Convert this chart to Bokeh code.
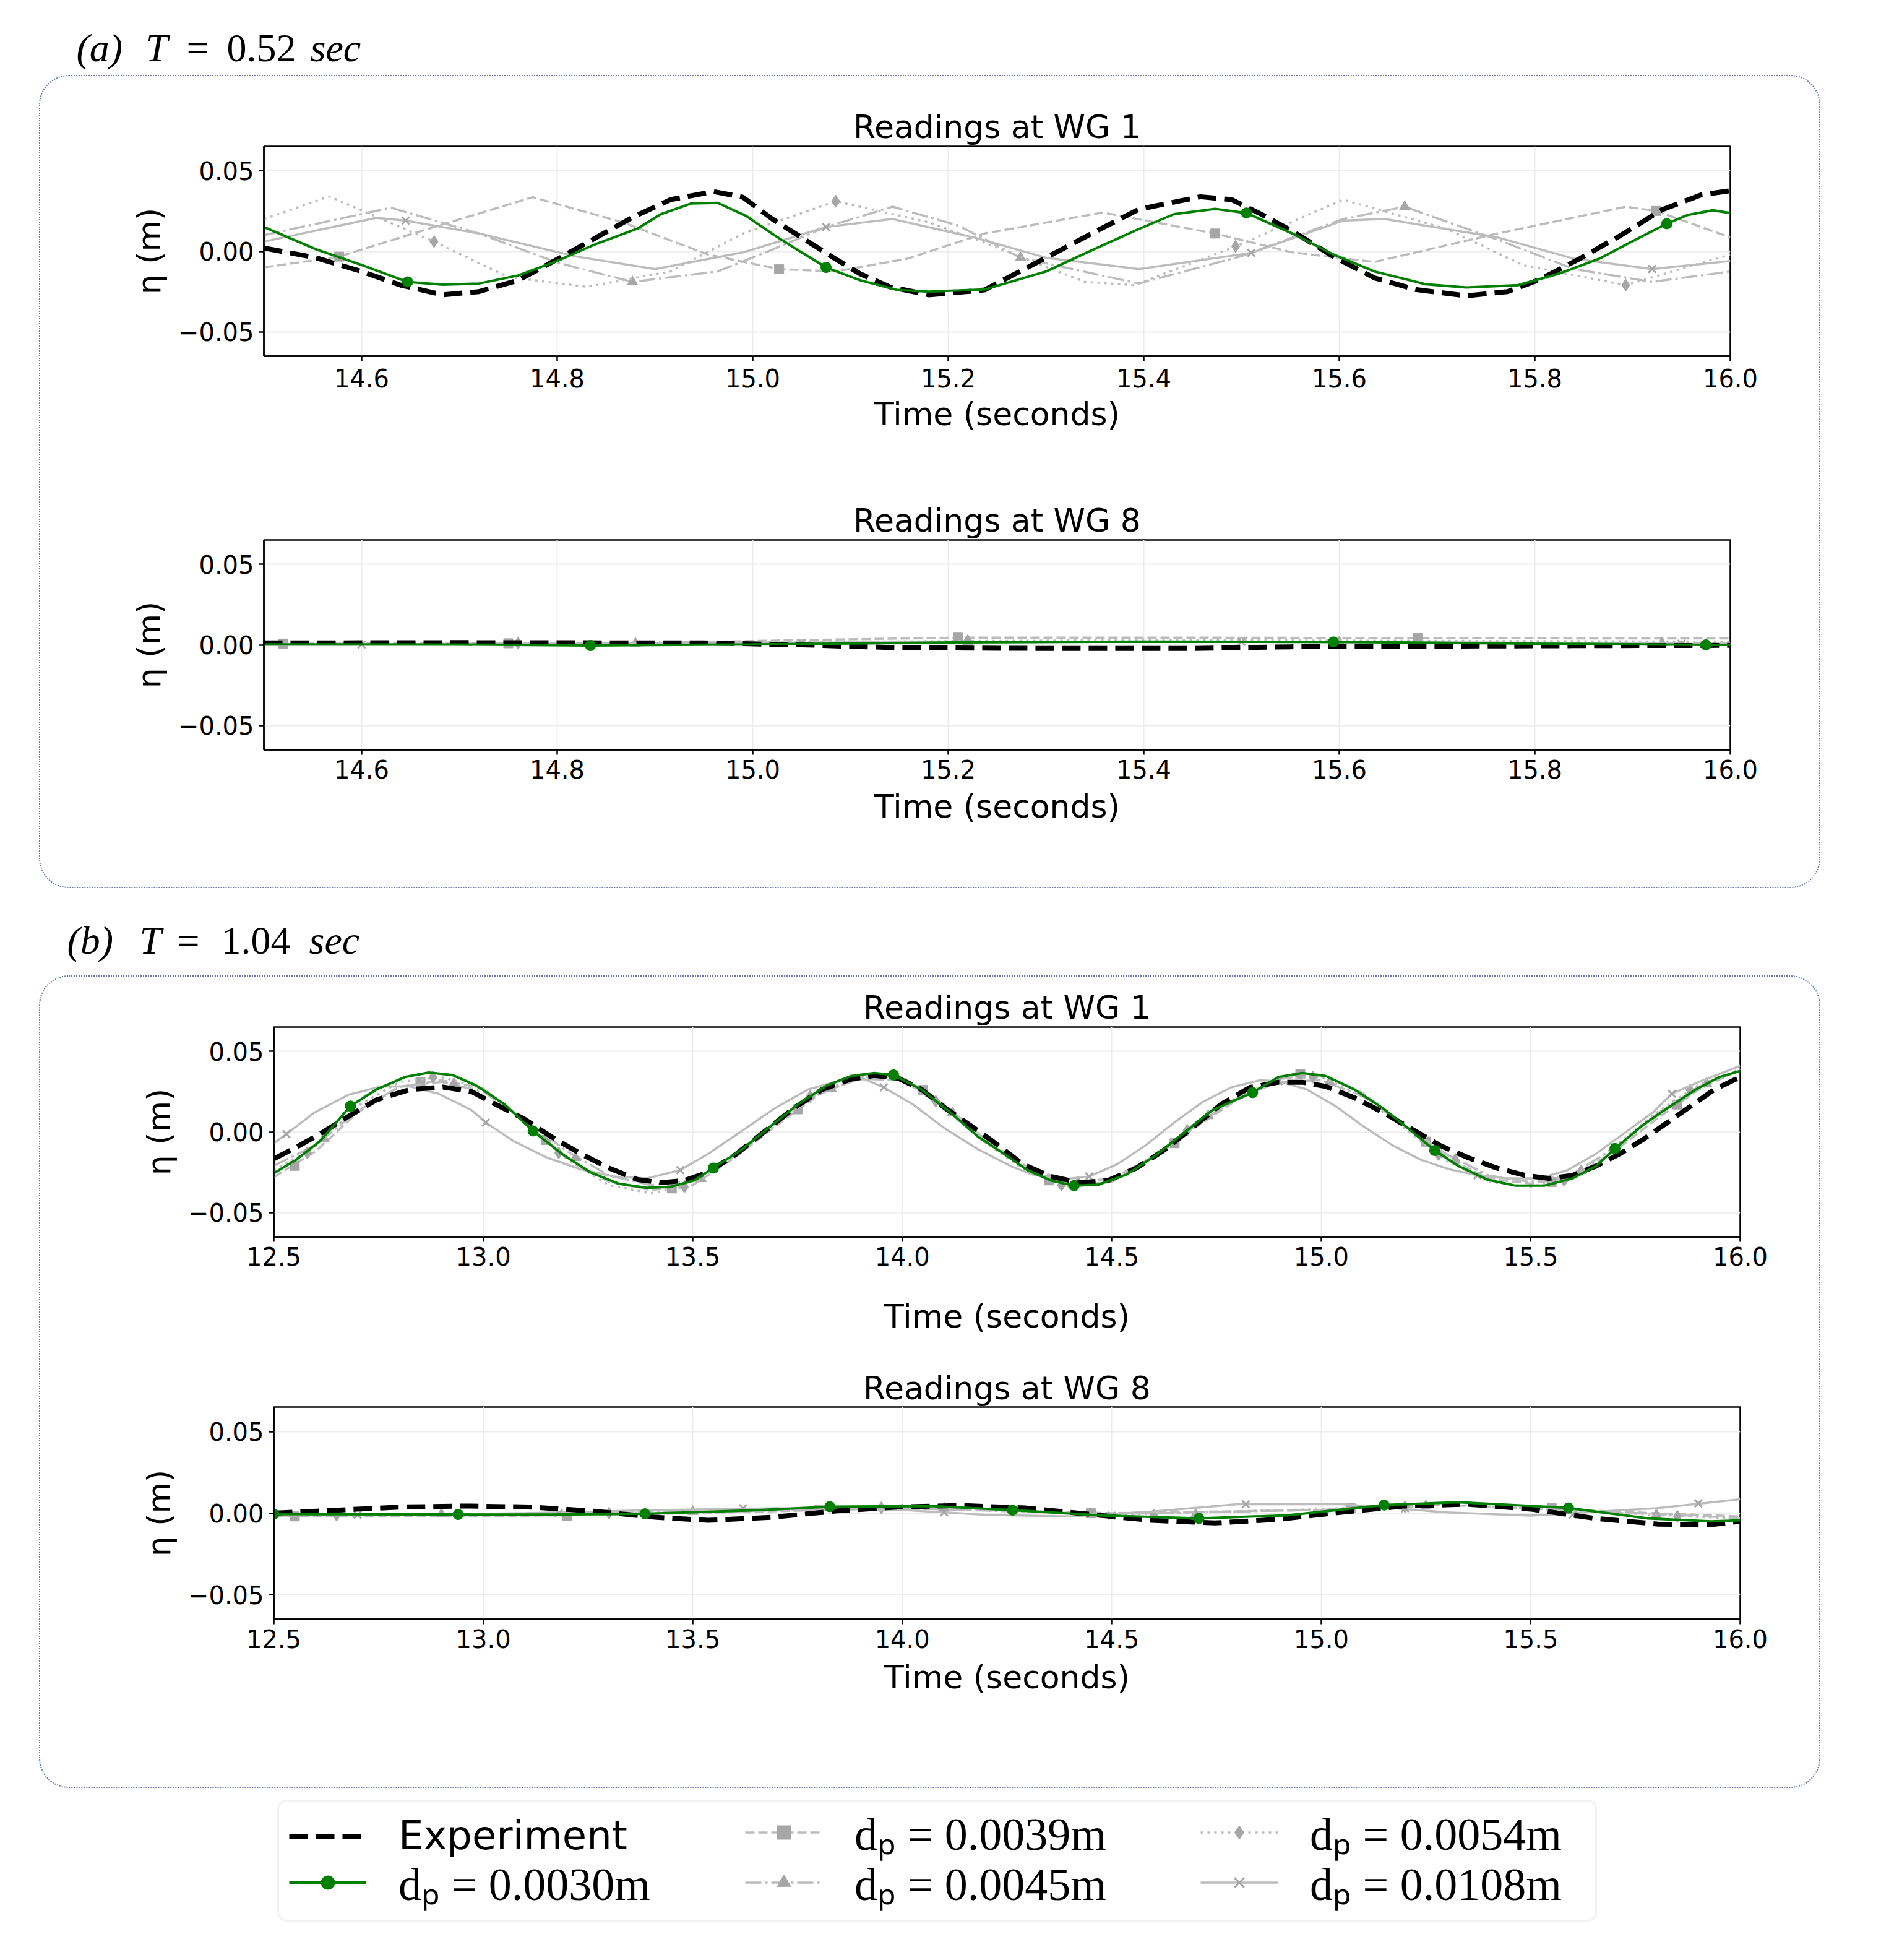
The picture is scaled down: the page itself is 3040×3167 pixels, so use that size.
from bokeh.plotting import figure
from bokeh.models import (Range1d, FixedTicker, NumeralTickFormatter, Label, Legend,
                          LegendItem, BoxAnnotation)
from bokeh.layouts import column
from bokeh.embed import file_html
from bokeh.resources import INLINE

# ------------------------------------------------------------------ data
Y_TICKS = [-0.05, 0.0, 0.05]
Y_TICK_LABELS = ["\u22120.05", "0.00", "0.05"]
XTICKS_A = [14.6, 14.8, 15.0, 15.2, 15.4, 15.6, 15.8, 16.0]
XTICKS_B = [12.5, 13.0, 13.5, 14.0, 14.5, 15.0, 15.5, 16.0]
LEGEND_LABELS = ["Experiment", "d\u209a = 0.0030m", "d\u209a = 0.0039m",
                 "d\u209a = 0.0045m", "d\u209a = 0.0054m", "d\u209a = 0.0108m"]

# (a) T = 0.52 s, WG 1
A1_T_EXP = [14.50, 14.553, 14.60, 14.64, 14.683, 14.72, 14.76, 14.80, 14.84, 14.877, 14.916, 14.96,
            14.99, 15.02, 15.05, 15.08, 15.11, 15.14, 15.18, 15.237, 15.30, 15.353, 15.395, 15.458,
            15.49, 15.52, 15.552, 15.594, 15.636, 15.678, 15.73, 15.772, 15.804, 15.846, 15.888,
            15.93, 15.97, 16.0]
A1_EXP = [0.002, -0.004, -0.0125, -0.021, -0.027, -0.025, -0.018, -0.005, 0.0085, 0.021, 0.032, 0.037,
          0.0335, 0.020, 0.0085, -0.003, -0.014, -0.022, -0.027, -0.024, -0.004, 0.013, 0.026, 0.0338,
          0.032, 0.023, 0.0125, -0.0033, -0.0165, -0.0237, -0.0276, -0.025, -0.0178, -0.0046, 0.0099,
          0.0257, 0.0349, 0.0375]
A1_T_030 = [14.50, 14.553, 14.60, 14.647, 14.683, 14.72, 14.76, 14.80, 14.84, 14.882, 14.906, 14.937,
            14.964, 14.993, 15.022, 15.05, 15.075, 15.11, 15.148, 15.18, 15.237, 15.30, 15.342, 15.395,
            15.431, 15.473, 15.505, 15.552, 15.594, 15.636, 15.688, 15.73, 15.783, 15.825, 15.866,
            15.903, 15.935, 15.956, 15.982, 16.0]
A1_030 = [0.015, 0.0013, -0.0085, -0.019, -0.0207, -0.020, -0.015, -0.006, 0.0046, 0.014, 0.023, 0.0296,
          0.030, 0.022, 0.010, -0.0007, -0.010, -0.018, -0.024, -0.025, -0.0237, -0.0125, -0.0007, 0.0138,
          0.023, 0.0263, 0.0237, 0.011, -0.002, -0.0125, -0.0204, -0.0224, -0.021, -0.0138, -0.0046,
          0.0072, 0.0171, 0.0224, 0.0254, 0.0237]
A1_MT_030 = [14.647, 15.075, 15.505, 15.935]
A1_MV_030 = [-0.019, -0.010, 0.0237, 0.0171]
A1_T_039 = [14.50, 14.577, 14.674, 14.775, 14.867, 14.954, 15.027, 15.085, 15.158, 15.237, 15.358,
            15.473, 15.552, 15.636, 15.762, 15.893, 15.924, 16.0]
A1_039 = [-0.010, -0.0033, 0.015, 0.0335, 0.018, -0.002, -0.011, -0.0125, -0.0046, 0.011, 0.024,
          0.011, -0.0007, -0.0066, 0.011, 0.0276, 0.025, 0.0086]
A1_MT_039 = [14.577, 15.027, 15.473, 15.924]
A1_MV_039 = [-0.0033, -0.011, 0.011, 0.025]
A1_T_045 = [14.50, 14.63, 14.72, 14.80, 14.877, 14.964, 15.013, 15.075, 15.143, 15.21, 15.274, 15.395,
            15.50, 15.604, 15.667, 15.762, 15.84, 15.92, 16.0]
A1_045 = [0.010, 0.027, 0.011, -0.007, -0.019, -0.0125, -0.0007, 0.015, 0.0276, 0.016, -0.004, -0.020,
          -0.003, 0.020, 0.0276, 0.0072, -0.011, -0.019, -0.0125]
A1_MT_045 = [14.877, 15.274, 15.667]
A1_MV_045 = [-0.019, -0.004, 0.0276]
A1_T_054 = [14.50, 14.567, 14.674, 14.75, 14.83, 14.916, 14.99, 15.085, 15.18, 15.24, 15.34, 15.39,
            15.494, 15.604, 15.71, 15.788, 15.893, 16.0]
A1_054 = [0.020, 0.034, 0.006, -0.016, -0.022, -0.0125, 0.011, 0.031, 0.018, 0.0046, -0.019, -0.021,
          0.003, 0.032, 0.0138, -0.0086, -0.021, -0.002]
A1_MT_054 = [14.674, 15.085, 15.494, 15.893]
A1_MV_054 = [0.006, 0.031, 0.003, -0.021]
A1_T_108 = [14.50, 14.615, 14.645, 14.72, 14.82, 14.90, 14.99, 15.075, 15.143, 15.23, 15.30, 15.395,
            15.51, 15.604, 15.646, 15.762, 15.84, 15.92, 16.0]
A1_108 = [0.006, 0.0207, 0.019, 0.011, -0.0033, -0.011, -0.0007, 0.015, 0.020, 0.008, -0.004, -0.011,
          -0.001, 0.019, 0.020, 0.0086, -0.0046, -0.011, -0.006]
A1_MT_108 = [14.645, 15.075, 15.51, 15.92]
A1_MV_108 = [0.019, 0.015, -0.001, -0.011]

# (a) T = 0.52 s, WG 8
A8_T_EXP = [14.50, 14.70, 14.95, 15.05, 15.15, 15.30, 15.45, 15.55, 15.70, 15.85, 16.0]
A8_EXP = [0.0012, 0.0014, 0.0012, 0.0, -0.0018, -0.0022, -0.0022, -0.0012, -0.0008, -0.0005, -0.0003]
A8_T_030 = [14.50, 14.70, 14.834, 15.00, 15.20, 15.40, 15.594, 15.80, 15.975, 16.0]
A8_030 = [0.0003, 0.0002, -0.0004, 0.0003, 0.0015, 0.002, 0.0018, 0.0008, 0.0, 0.0]
A8_MT_030 = [14.834, 15.594, 15.975]
A8_MV_030 = [-0.0004, 0.0018, 0.0]
A8_T_039 = [14.50, 14.75, 14.90, 15.05, 15.21, 15.45, 15.68, 15.93, 16.0]
A8_039 = [0.0008, 0.0010, 0.0012, 0.003, 0.0045, 0.0045, 0.0042, 0.004, 0.004]
A8_MT_039 = [14.52, 14.75, 15.21, 15.68]
A8_MV_039 = [0.0008, 0.0010, 0.0045, 0.0042]
A8_T_GRAY = [14.50, 14.80, 15.10, 15.40, 15.70, 16.0]
A8_045 = [0.0005, 0.0008, 0.0015, 0.002, 0.0015, 0.001]
A8_MT_045 = [14.88, 15.22, 15.60, 15.93]
A8_MV_045 = [0.0009, 0.0017, 0.0018, 0.0011]
A8_054 = [0.001, 0.0012, 0.002, 0.003, 0.0025, 0.002]
A8_MT_054 = [14.76, 15.22, 15.68]
A8_MV_054 = [0.0011, 0.0026, 0.0026]
A8_108 = [0.0, 0.0005, 0.0015, 0.002, 0.0015, 0.0005]
A8_MT_108 = [14.60, 15.05, 15.50, 15.95]
A8_MV_108 = [0.0002, 0.0012, 0.0019, 0.0007]

# (b) T = 1.04 s, WG 1
B1_T_EXP = [12.50, 12.553, 12.61, 12.678, 12.745, 12.825, 12.904, 12.972, 13.028, 13.096, 13.164,
            13.232, 13.30, 13.368, 13.424, 13.48, 13.537, 13.605, 13.673, 13.741, 13.809, 13.877,
            13.933, 13.99, 14.046, 14.103, 14.16, 14.216, 14.287, 14.355, 14.423, 14.491, 14.559,
            14.627, 14.695, 14.762, 14.83, 14.898, 14.955, 15.011, 15.079, 15.147, 15.215, 15.283,
            15.351, 15.419, 15.486, 15.543, 15.60, 15.656, 15.713, 15.769, 15.826, 15.882, 15.938, 16.0]
B1_EXP = [-0.0167, -0.0096, -0.0013, 0.0096, 0.0199, 0.0263, 0.0278, 0.025, 0.0173, 0.0083, -0.0032,
          -0.0135, -0.0224, -0.0295, -0.0314, -0.0301, -0.025, -0.0135, 0.0006, 0.0147, 0.0263, 0.0327,
          0.035, 0.0333, 0.0263, 0.0147, 0.0045, -0.0058, -0.0199, -0.0276, -0.0314, -0.0301, -0.0224,
          -0.0109, 0.0032, 0.0173, 0.0276, 0.0308, 0.0308, 0.0282, 0.0212, 0.0122, 0.0019, -0.0083,
          -0.016, -0.0224, -0.0269, -0.0288, -0.0269, -0.0212, -0.0135, -0.0045, 0.0058, 0.016, 0.0263,
          0.034]
B1_T_030 = [12.50, 12.553, 12.61, 12.683, 12.745, 12.813, 12.87, 12.926, 12.983, 13.05, 13.119, 13.187,
            13.255, 13.322, 13.39, 13.447, 13.503, 13.549, 13.617, 13.684, 13.752, 13.82, 13.877, 13.933,
            13.979, 14.046, 14.114, 14.182, 14.242, 14.299, 14.355, 14.41, 14.468, 14.536, 14.604,
            14.672, 14.74, 14.836, 14.898, 14.955, 15.011, 15.079, 15.147, 15.215, 15.271, 15.328,
            15.396, 15.464, 15.532, 15.60, 15.656, 15.701, 15.769, 15.826, 15.894, 15.95, 16.0]
B1_030 = [-0.0256, -0.0173, -0.0058, 0.016, 0.0263, 0.034, 0.0368, 0.0353, 0.0288, 0.0173, 0.0006,
          -0.0135, -0.025, -0.032, -0.0346, -0.034, -0.0301, -0.0224, -0.0109, 0.0032, 0.0173, 0.0288,
          0.0346, 0.0365, 0.0353, 0.0263, 0.0122, -0.0032, -0.0135, -0.0237, -0.0301, -0.0333, -0.0327,
          -0.0263, -0.0147, -0.0006, 0.0135, 0.0244, 0.034, 0.0365, 0.0346, 0.0263, 0.0147, 0.0006,
          -0.0115, -0.0212, -0.0295, -0.0333, -0.0333, -0.0288, -0.0212, -0.0103, 0.0045, 0.0147,
          0.0263, 0.034, 0.0378]
B1_MT_030 = [12.683, 13.119, 13.549, 13.979, 14.41, 14.836, 15.271, 15.701]
B1_MV_030 = [0.016, 0.0006, -0.0224, 0.0353, -0.0333, 0.0244, -0.0115, -0.0103]
B1_T_GRAY = [12.5, 12.6, 12.7, 12.8, 12.9, 13.0, 13.1, 13.2, 13.3, 13.4, 13.5, 13.6, 13.7, 13.8, 13.9,
             14.0, 14.1, 14.2, 14.3, 14.4, 14.5, 14.6, 14.7, 14.8, 14.9, 15.0, 15.1, 15.2, 15.3, 15.4,
             15.5, 15.6, 15.7, 15.8, 15.9, 16.0]
B1_039 = [-0.028, -0.012, 0.012, 0.028, 0.032, 0.027, 0.006, -0.016, -0.031, -0.036, -0.033, -0.016,
          0.004, 0.023, 0.034, 0.034, 0.017, -0.005, -0.024, -0.033, -0.031, -0.016, 0.003, 0.020,
          0.033, 0.036, 0.024, 0.004, -0.016, -0.029, -0.032, -0.028, -0.012, 0.008, 0.026, 0.039]
B1_MT_039 = [12.55, 12.85, 13.15, 13.45, 13.75, 14.05, 14.35, 14.65, 14.95, 15.25, 15.55, 15.85]
B1_MV_039 = [-0.021, 0.031, -0.005, -0.035, 0.014, 0.026, -0.030, -0.007, 0.036, -0.006, -0.031, 0.017]
B1_045 = [-0.021, -0.008, 0.013, 0.028, 0.031, 0.025, 0.007, -0.012, -0.027, -0.033, -0.030, -0.015,
          0.005, 0.024, 0.033, 0.032, 0.016, -0.005, -0.022, -0.031, -0.029, -0.015, 0.004, 0.021,
          0.031, 0.032, 0.022, 0.004, -0.014, -0.027, -0.031, -0.026, -0.010, 0.011, 0.028, 0.038]
B1_MT_045 = [12.62, 12.93, 13.22, 13.52, 13.83, 14.12, 14.42, 14.73, 15.02, 15.32, 15.62, 15.92]
B1_MV_045 = [-0.004, 0.030, -0.016, -0.029, 0.027, 0.012, -0.031, 0.010, 0.031, -0.017, -0.024, 0.030]
B1_054 = [-0.024, -0.009, 0.016, 0.031, 0.034, 0.027, 0.006, -0.017, -0.033, -0.038, -0.033, -0.015,
          0.006, 0.025, 0.034, 0.032, 0.015, -0.007, -0.025, -0.034, -0.031, -0.015, 0.005, 0.022,
          0.033, 0.034, 0.022, 0.002, -0.018, -0.031, -0.034, -0.028, -0.009, 0.012, 0.029, 0.039]
B1_MT_054 = [12.58, 12.88, 13.18, 13.48, 13.78, 14.08, 14.38, 14.68, 14.98, 15.28, 15.58, 15.88]
B1_MV_054 = [-0.013, 0.034, -0.013, -0.034, 0.022, 0.019, -0.033, 0.001, 0.034, -0.014, -0.030, 0.026]
B1_T_108 = [12.50, 12.53, 12.598, 12.678, 12.757, 12.825, 12.893, 12.972, 13.006, 13.073, 13.153, 13.232,
            13.311, 13.39, 13.47, 13.537, 13.617, 13.696, 13.775, 13.854, 13.91, 13.956, 14.024, 14.103,
            14.182, 14.259, 14.31, 14.378, 14.446, 14.514, 14.581, 14.649, 14.717, 14.785, 14.853,
            14.898, 14.966, 15.034, 15.102, 15.17, 15.238, 15.305, 15.373, 15.441, 15.52, 15.588,
            15.656, 15.724, 15.792, 15.837, 15.905, 16.0]
B1_108 = [-0.007, -0.0013, 0.0122, 0.023, 0.0282, 0.0282, 0.0237, 0.0135, 0.0058, -0.0058, -0.016,
          -0.0231, -0.0276, -0.0288, -0.0237, -0.0135, 0.0006, 0.0147, 0.0263, 0.032, 0.0327, 0.0276,
          0.0173, 0.0019, -0.0109, -0.0212, -0.0263, -0.0295, -0.0276, -0.0199, -0.0083, 0.0058, 0.0186,
          0.0276, 0.032, 0.0314, 0.0263, 0.016, 0.0032, -0.0083, -0.0173, -0.0231, -0.0269, -0.0288,
          -0.0288, -0.0237, -0.0135, -0.0006, 0.0122, 0.0237, 0.0314, 0.041]
B1_MT_108 = [12.53, 13.006, 13.47, 13.956, 14.446, 14.898, 15.373, 15.837]
B1_MV_108 = [-0.0013, 0.0058, -0.0237, 0.0276, -0.0276, 0.0314, -0.0269, 0.0237]

# (b) T = 1.04 s, WG 8
B8_T_EXP = [12.5, 12.656, 12.807, 12.958, 13.109, 13.26, 13.41, 13.537, 13.689, 13.84, 13.99, 14.142,
            14.293, 14.444, 14.595, 14.746, 14.897, 15.048, 15.2, 15.35, 15.5, 15.653, 15.804, 15.93, 16.0]
B8_EXP = [0.0, 0.0019, 0.0038, 0.0044, 0.0038, 0.0013, -0.0025, -0.0044, -0.0025, 0.0013, 0.0038,
          0.0047, 0.0032, -0.0006, -0.0044, -0.006, -0.0038, 0.0006, 0.0044, 0.0055, 0.0025, -0.0032,
          -0.0067, -0.007, -0.005]
B8_T_030 = [12.5, 12.94, 13.16, 13.386, 13.66, 13.827, 14.066, 14.263, 14.47, 14.708, 14.92, 15.15,
            15.326, 15.59, 15.78, 15.93, 16.0]
B8_030 = [-0.0006, -0.0008, -0.0009, -0.0004, 0.0019, 0.004, 0.0044, 0.0019, -0.0013, -0.0032, -0.0013,
          0.005, 0.0067, 0.0032, -0.0032, -0.005, -0.0044]
B8_MT_030 = [12.5, 12.94, 13.386, 13.827, 14.263, 14.708, 15.15, 15.59]
B8_MV_030 = [-0.0006, -0.0008, -0.0004, 0.004, 0.0019, -0.0032, 0.005, 0.0032]
B8_T_GRAY = [12.5, 13.0, 13.5, 14.0, 14.5, 15.0, 15.3, 15.6, 16.0]
B8_039 = [-0.002, -0.002, 0.0, 0.003, 0.0, 0.002, 0.005, 0.002, -0.002]
B8_MT_039 = [12.55, 13.2, 13.8, 14.45, 15.07, 15.55]
B8_MV_039 = [-0.002, -0.0015, 0.002, 0.0, 0.003, 0.003]
B8_045 = [-0.001, -0.0005, 0.001, 0.003, -0.0005, 0.002, 0.005, 0.002, -0.003]
B8_MT_045 = [12.9, 13.5, 14.1, 14.7, 15.25, 15.8]
B8_MV_045 = [-0.0006, 0.001, 0.003, -0.001, 0.0045, -0.001]
B8_054 = [-0.0015, -0.001, 0.0005, 0.0035, -0.001, 0.0025, 0.0055, 0.0015, -0.0035]
B8_MT_054 = [12.65, 13.3, 13.95, 14.6, 15.2, 15.85]
B8_MV_054 = [-0.0012, 0.0, 0.0033, -0.0012, 0.004, -0.002]
B8_T_108 = [12.5, 12.8, 13.1, 13.4, 13.7, 14.0, 14.2, 14.4, 14.6, 14.8, 15.05, 15.3, 15.5, 15.8, 16.0]
B8_108 = [-0.0015, -0.001, 0.0, 0.0018, 0.003, 0.002, -0.001, -0.002, 0.001, 0.0055, 0.0055, 0.0005,
          -0.0015, 0.003, 0.0085]
B8_MT_108 = [12.7, 13.18, 13.62, 14.1, 14.5, 14.82, 15.2, 15.6, 15.9]
B8_MV_108 = [-0.001, 0.0, 0.003, 0.0005, -0.0015, 0.0055, 0.003, -0.001, 0.006]

# ------------------------------------------------------------------ styles
GRAY_LINE = "#bcbcbc"
GRAY_MARK = "#a6a6a6"
STYLE = {
    "exp": dict(color="black", width=8, dash="30 13", marker=None, mcolor=None, size=0),
    "030": dict(color="#008000", width=4, dash="solid", marker="circle", mcolor="#008000", size=17),
    "039": dict(color=GRAY_LINE, width=3.5, dash="15 6", marker="square", mcolor=GRAY_MARK, size=15),
    "045": dict(color=GRAY_LINE, width=3.5, dash="26 6 4 6", marker="triangle", mcolor=GRAY_MARK, size=17),
    "054": dict(color=GRAY_LINE, width=3.5, dash="4 7", marker="diamond", mcolor=GRAY_MARK, size=20),
    "108": dict(color=GRAY_LINE, width=3.5, dash="solid", marker="x", mcolor=GRAY_MARK, size=17),
}
SANS = "DejaVu Sans"
SERIF = "Liberation Serif"


def add_series(p, t, v, mt, mv, key):
    st = STYLE[key]
    n = min(len(t), len(v))
    p.line(t[:n], v[:n], line_color=st["color"], line_width=st["width"], line_dash=st["dash"])
    if st["marker"] and mt:
        m = min(len(mt), len(mv))
        p.scatter(mt[:m], mv[:m], marker=st["marker"], size=st["size"], fill_color=st["mcolor"],
                  line_color=st["mcolor"], line_width=3 if st["marker"] == "x" else 1)


def make_panel(w, h, mbl, mbr, mbt, mbb, xr, xticks, title, title_standoff, tick_standoff,
               xlab_standoff, series):
    p = figure(width=w, height=h, x_range=Range1d(*xr), y_range=Range1d(-0.065, 0.065),
               output_backend="svg", toolbar_location=None, title=title,
               min_border_left=mbl, min_border_right=mbr, min_border_top=mbt, min_border_bottom=mbb)
    p.border_fill_color = None
    p.background_fill_color = "white"
    p.outline_line_color = "black"
    p.outline_line_width = 2.5
    p.title.align = "center"
    p.title.text_font = SANS
    p.title.text_font_size = "52px"
    p.title.text_font_style = "normal"
    p.title.text_color = "black"
    p.title.standoff = title_standoff
    p.xaxis.ticker = FixedTicker(ticks=xticks)
    p.xaxis.formatter = NumeralTickFormatter(format="0.0")
    p.yaxis.ticker = FixedTicker(ticks=Y_TICKS)
    p.yaxis.major_label_overrides = {t: s for t, s in zip(Y_TICKS, Y_TICK_LABELS)}
    p.xaxis.axis_label = "Time (seconds)"
    p.yaxis.axis_label = "\u03b7 (m)"
    for ax in p.axis:
        ax.axis_line_color = "black"
        ax.axis_line_width = 2.5
        ax.major_tick_line_color = "black"
        ax.major_tick_line_width = 2.5
        ax.major_tick_out = 8
        ax.major_tick_in = 0
        ax.minor_tick_line_color = None
        ax.major_label_text_font = SANS
        ax.major_label_text_font_size = "40px"
        ax.major_label_text_color = "black"
        ax.axis_label_text_font = SANS
        ax.axis_label_text_font_size = "52px"
        ax.axis_label_text_font_style = "normal"
        ax.axis_label_text_color = "black"
    p.yaxis.major_label_standoff = 8
    p.xaxis.major_label_standoff = tick_standoff
    p.xaxis.axis_label_standoff = xlab_standoff
    p.yaxis.axis_label_standoff = 14
    p.grid.grid_line_color = "#ececec"
    p.grid.grid_line_width = 2
    for s in series:
        add_series(p, *s)
    return p


# panel (a)
fig_a1 = make_panel(2875, 629, 359, 143, 113, 177, (14.5, 16.0), XTICKS_A, "Readings at WG 1", 4, 12, 10, [
    (A1_T_039, A1_039, A1_MT_039, A1_MV_039, "039"),
    (A1_T_045, A1_045, A1_MT_045, A1_MV_045, "045"),
    (A1_T_054, A1_054, A1_MT_054, A1_MV_054, "054"),
    (A1_T_108, A1_108, A1_MT_108, A1_MV_108, "108"),
    (A1_T_EXP, A1_EXP, [], [], "exp"),
    (A1_T_030, A1_030, A1_MT_030, A1_MV_030, "030"),
])
fig_a8 = make_panel(2875, 681, 361, 144, 120, 222, (14.5, 16.0), XTICKS_A, "Readings at WG 8", 4, 8, 12, [
    (A8_T_039, A8_039, A8_MT_039, A8_MV_039, "039"),
    (A8_T_GRAY, A8_045, A8_MT_045, A8_MV_045, "045"),
    (A8_T_GRAY, A8_054, A8_MT_054, A8_MV_054, "054"),
    (A8_T_GRAY, A8_108, A8_MT_108, A8_MV_108, "108"),
    (A8_T_EXP, A8_EXP, [], [], "exp"),
    (A8_T_030, A8_030, A8_MT_030, A8_MV_030, "030"),
])
# panel (b)
fig_b1 = make_panel(2875, 609, 377, 128, 81, 189, (12.5, 16.0), XTICKS_B, "Readings at WG 1", 4, 8, 49, [
    (B1_T_GRAY, B1_039, B1_MT_039, B1_MV_039, "039"),
    (B1_T_GRAY, B1_045, B1_MT_045, B1_MV_045, "045"),
    (B1_T_GRAY, B1_054, B1_MT_054, B1_MV_054, "054"),
    (B1_T_108, B1_108, B1_MT_108, B1_MV_108, "108"),
    (B1_T_EXP, B1_EXP, [], [], "exp"),
    (B1_T_030, B1_030, B1_MT_030, B1_MV_030, "030"),
])
fig_b8 = make_panel(2875, 700, 365, 117, 86, 271, (12.5, 16.0), XTICKS_B, "Readings at WG 8", 2, 8, 14, [
    (B8_T_GRAY, B8_039, B8_MT_039, B8_MV_039, "039"),
    (B8_T_GRAY, B8_045, B8_MT_045, B8_MV_045, "045"),
    (B8_T_GRAY, B8_054, B8_MT_054, B8_MV_054, "054"),
    (B8_T_108, B8_108, B8_MT_108, B8_MV_108, "108"),
    (B8_T_EXP, B8_EXP, [], [], "exp"),
    (B8_T_030, B8_030, B8_MT_030, B8_MV_030, "030"),
])


def blank(w, h):
    f = figure(width=w, height=h, x_range=Range1d(0, w), y_range=Range1d(0, h),
               output_backend="svg", toolbar_location=None, min_border=0,
               x_axis_type=None, y_axis_type=None)
    f.outline_line_color = None
    f.background_fill_color = None
    f.border_fill_color = None
    return f


def heading(h, pieces):
    f = blank(3024, h)
    for txt, x, y, style in pieces:
        f.add_layout(Label(x=x, y=y, text=txt, text_font=SERIF, text_font_size="64px",
                           text_font_style=style, text_baseline="middle", text_color="black"))
    return f


head_a = heading(121, [("(a)", 123, 44, "italic"), ("T", 235, 44, "italic"), ("=", 301, 44, "normal"),
                       ("0.52", 366, 44, "normal"), ("sec", 501, 44, "italic")])
head_b = heading(141, [("(b)", 108, 57, "italic"), ("T", 225, 57, "italic"), ("=", 286, 57, "normal"),
                       ("1.04", 357, 57, "normal"), ("sec", 499, 57, "italic")])

BOX_STYLE = {"border": "2px dotted #6574a6", "border-radius": "48px"}
box_a = column(fig_a1, fig_a8, margin=(0, 0, 0, 63), styles=BOX_STYLE)
box_b = column(fig_b1, fig_b8, margin=(0, 0, 0, 63), styles=BOX_STYLE)

# legend
lf = blank(3024, 254)
frame = BoxAnnotation(left=449, right=2579, bottom=40, top=234, fill_color="white", fill_alpha=1,
                      line_color="#d4d4d4", line_width=3)
if "border_radius" in frame.properties():
    frame.border_radius = 14
lf.add_layout(frame)

# legend handles: one point each, outside the visible range (only their legend glyphs show)
handles = []
for key in ["exp", "030", "039", "045", "054", "108"]:
    st = STYLE[key]
    rs = [lf.line(x=[-500, -400], y=[-500, -500], line_color=st["color"], line_width=st["width"],
                  line_dash=st["dash"])]
    if st["marker"]:
        rs.append(lf.scatter(x=[-500], y=[-500], marker=st["marker"], size=st["size"],
                             fill_color=st["mcolor"], line_color=st["mcolor"],
                             line_width=3 if st["marker"] == "x" else 1))
    handles.append(rs)


def add_legend(i, x, y, font, size):
    lg = Legend(items=[LegendItem(label=LEGEND_LABELS[i], renderers=handles[i])], location=(x, y),
                orientation="vertical", padding=0, margin=0, spacing=0,
                border_line_color=None, background_fill_alpha=0, glyph_width=125, glyph_height=55,
                label_height=90, label_standoff=52, label_text_font=font, label_text_font_size=size,
                label_text_baseline="middle", label_text_color="black")
    lf.add_layout(lg)


add_legend(0, 467, 132, SANS, "64px")
add_legend(1, 467, 51, SERIF, "74px")
add_legend(2, 1204, 132, SERIF, "74px")
add_legend(3, 1204, 51, SERIF, "74px")
add_legend(4, 1940, 132, SERIF, "74px")
add_legend(5, 1940, 51, SERIF, "74px")

page = column(head_a, box_a, head_b, box_b, lf)
open("out.html", "w").write(file_html(page, INLINE, "Wave gauge readings"))
